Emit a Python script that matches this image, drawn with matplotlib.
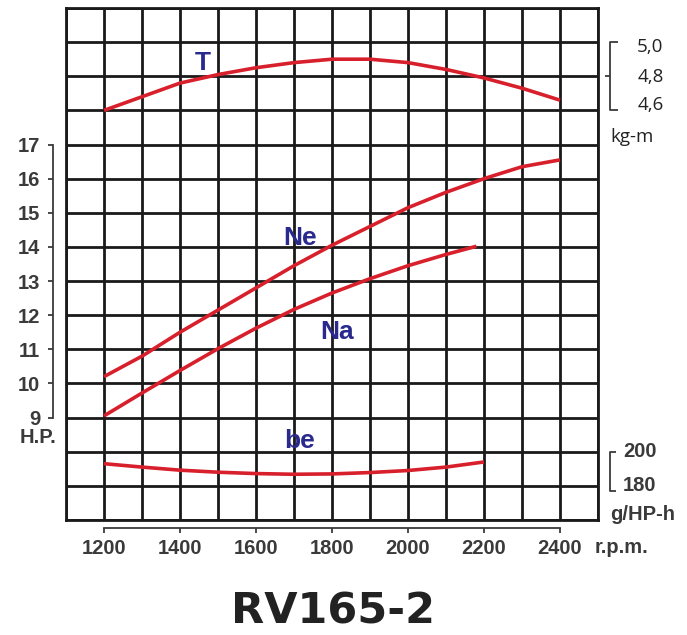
import numpy as np
import matplotlib
matplotlib.use("Agg")
import matplotlib.pyplot as plt

plt.rcParams['font.family'] = ['Liberation Sans', 'DejaVu Sans']

# ---- data ----
rpm = [1200, 1300, 1400, 1500, 1600, 1700, 1800, 1900, 2000, 2100, 2200, 2300, 2400]
torque_kgm = [4.60, 4.68, 4.76, 4.81, 4.85, 4.88, 4.90, 4.90, 4.88, 4.84, 4.79, 4.73, 4.66]
ne_hp = [10.2, 10.8, 11.5, 12.15, 12.8, 13.45, 14.05, 14.6, 15.15, 15.6, 16.0, 16.35, 16.55]
na_rpm = [1200, 1300, 1400, 1500, 1600, 1700, 1800, 1900, 2000, 2100, 2180]
na_hp = [9.05, 9.72, 10.38, 11.02, 11.62, 12.17, 12.65, 13.07, 13.45, 13.78, 14.02]
be_rpm = [1200, 1300, 1400, 1500, 1600, 1700, 1800, 1900, 2000, 2100, 2200]
be_g = [193, 191, 189.2, 188, 187.2, 186.8, 187, 187.8, 189, 191, 194]

hp_ticks = list(range(9, 18))
rpm_ticks = [1200, 1400, 1600, 1800, 2000, 2200, 2400]
t_ticks = [5.0, 4.8, 4.6]
t_labels = ["5,0", "4,8", "4,6"]
be_ticks = [200, 180]
title = "RV165-2"

# scale conversions onto the H.P. grid
def t_to_grid(t):
    return 18 + (np.asarray(t) - 4.6) / 0.2

def be_to_grid(b):
    return 7 + (np.asarray(b) - 180) / 20.0

PX = 72 / 100  # points per pixel at dpi 100

W, H = 687, 635
fig = plt.figure(figsize=(W / 100, H / 100), dpi=100)
fig.patch.set_facecolor('white')
pos = [66 / W, 1 - 520 / H, 532 / W, 512 / H]
ax = fig.add_axes(pos)
ax.set_xlim(1100, 2500)
ax.set_ylim(6, 21)
ax.set_xticks(np.arange(1100, 2501, 100))
ax.set_yticks(np.arange(6, 22, 1))
ax.tick_params(length=0, labelbottom=False, labelleft=False)
ax.grid(True, color='#1a1a1a', lw=2.0)
for s in ax.spines.values():
    s.set_color('#1a1a1a')
    s.set_linewidth(2.0)
ax.set_axisbelow(True)

red = '#d8202c'
navy = '#2a2a8e'
ax.plot(rpm, t_to_grid(torque_kgm), color=red, lw=2.6, solid_capstyle='butt', zorder=5)
ax.plot(rpm, ne_hp, color=red, lw=2.6, solid_capstyle='butt', zorder=5)
ax.plot(na_rpm, na_hp, color=red, lw=2.6, solid_capstyle='butt', zorder=5)
ax.plot(be_rpm, be_to_grid(be_g), color=red, lw=2.6, solid_capstyle='butt', zorder=5)

lab_kw = dict(color=navy, fontsize=19, fontweight='bold', ha='center', va='center', zorder=6)
ax.text(1460, 19.39, "T", **lab_kw)
ax.text(1716, 14.26, "Ne", **lab_kw)
ax.text(1813, 11.51, "Na", **lab_kw)
ax.text(1716, 8.31, "be", **lab_kw)

# ---- H.P. and r.p.m. axes ----
gray = '#3a3a3a'
ax2 = fig.add_axes(pos)
ax2.patch.set_visible(False)
ax2.set_xlim(1100, 2500)
ax2.set_ylim(6, 21)
ax2.spines['top'].set_visible(False)
ax2.spines['right'].set_visible(False)
ax2.spines['left'].set_position(('outward', 13 * PX))
ax2.spines['left'].set_bounds(9, 17)
ax2.spines['bottom'].set_position(('outward', 8 * PX))
ax2.spines['bottom'].set_bounds(1200, 2400)
for k in ('left', 'bottom'):
    ax2.spines[k].set_color(gray)
    ax2.spines[k].set_linewidth(1.3)
ax2.set_yticks(hp_ticks)
ax2.set_yticklabels([str(v) for v in hp_ticks])
ax2.set_xticks(rpm_ticks)
ax2.set_xticklabels([str(v) for v in rpm_ticks])
ax2.tick_params(axis='both', direction='out', length=5 * PX, width=1.3, color=gray,
                labelsize=14.5, labelcolor=gray)
ax2.tick_params(axis='y', pad=8 * PX)
ax2.tick_params(axis='x', pad=6 * PX)
for lbl in ax2.get_xticklabels() + ax2.get_yticklabels():
    lbl.set_fontweight('bold')

ax2.text(1026, 8.43, "H.P.", color=gray, fontsize=14.5, fontweight='bold',
         ha='center', va='center', clip_on=False)
ax2.text(2492, 5.18, "r.p.m.", color=gray, fontsize=14.5, fontweight='bold',
         ha='left', va='center', clip_on=False)

# ---- kg-m bracket ----
bx = 2531.6
tk = dict(color=gray, lw=1.3, clip_on=False, solid_capstyle='butt')
ax2.plot([bx + 21, bx, bx, bx + 21], [t_to_grid(5.0), t_to_grid(5.0), t_to_grid(4.6), t_to_grid(4.6)], **tk)
ax2.plot([bx - 13, bx], [t_to_grid(4.8), t_to_grid(4.8)], **tk)
t_lab_y = [19.85, 18.97, 18.15]
for yv, s in zip(t_lab_y, t_labels):
    ax2.text(2603, yv, s, color='#222222', fontsize=13.5, family=['Open Sans', 'DejaVu Sans'],
             ha='left', va='center', clip_on=False)
ax2.text(2532, 17.22, "kg-m", color='#222222', fontsize=13.5, family=['Open Sans', 'DejaVu Sans'],
         ha='left', va='center', clip_on=False)

# ---- g/HP-h bracket ----
ax2.plot([bx + 16, bx, bx, bx + 16], [be_to_grid(200), be_to_grid(200), 6.85, 6.85], **tk)
ax2.text(2566, be_to_grid(200), "200", color=gray, fontsize=14.5, fontweight='bold',
         ha='left', va='center', clip_on=False)
ax2.text(2566, be_to_grid(180), "180", color=gray, fontsize=14.5, fontweight='bold',
         ha='left', va='center', clip_on=False)
ax2.text(2532, 6.15, "g/HP-h", color=gray, fontsize=14.5, fontweight='bold',
         ha='left', va='center', clip_on=False)

fig.text(333 / W, 1 - 612 / H, title, fontsize=31, fontweight='bold', color='#222222',
         family=['DejaVu Sans'], ha='center', va='center')

fig.savefig("out.png", dpi=100)
